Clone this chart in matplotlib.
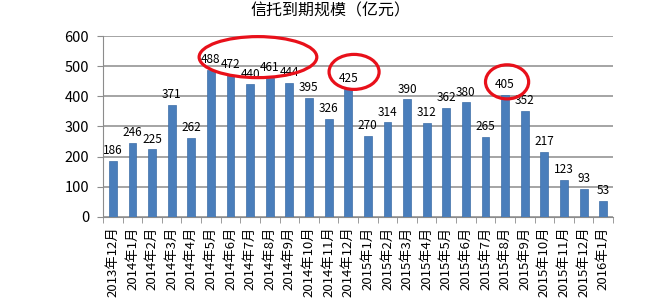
import matplotlib
matplotlib.use('Agg')
import matplotlib.pyplot as plt
from matplotlib.patches import Ellipse
import numpy as np

plt.rcParams['font.family'] = ['Noto Sans CJK SC', 'DejaVu Sans']

## data
months = ['2013年12月', '2014年1月', '2014年2月', '2014年3月', '2014年4月',
          '2014年5月', '2014年6月', '2014年7月', '2014年8月', '2014年9月',
          '2014年10月', '2014年11月', '2014年12月', '2015年1月', '2015年2月',
          '2015年3月', '2015年4月', '2015年5月', '2015年6月', '2015年7月',
          '2015年8月', '2015年9月', '2015年10月', '2015年11月', '2015年12月',
          '2016年1月']
values = [186, 246, 225, 371, 262, 488, 472, 440, 461, 444, 395, 326, 425,
          270, 314, 390, 312, 362, 380, 265, 405, 352, 217, 123, 93, 53]
title = '信托到期规模（亿元）'

fig = plt.figure(figsize=(6.6, 3.0), dpi=100)
ax = fig.add_axes([103/660, 1 - 217/300, (613 - 103)/660, (217 - 36)/300])

x = np.arange(len(values))
ax.bar(x, values, width=0.4, color='#4a7ebb', edgecolor='#3e6ea8',
       linewidth=0.5, zorder=3)

for xi, v in zip(x, values):
    ax.text(xi, v + 12, str(v), ha='center', va='bottom', fontsize=8.5,
            color='black', zorder=5)

## red circles around the peaks
for cx, cy, w, h in [(7.4, 530, 6.0, 136), (12.3, 481, 2.55, 116),
                     (20.1, 448, 2.2, 113)]:
    ax.add_patch(Ellipse((cx, cy), w, h, fill=False, edgecolor='#e8101a',
                         linewidth=2.3, zorder=6, clip_on=False))

ax.set_xlim(-0.5, len(values) - 0.5)
ax.set_ylim(0, 600)
ax.set_yticks(range(0, 601, 100))
ax.yaxis.grid(True, color='#8c8c8c', linewidth=1.1, zorder=0)

ax.set_xticks(x)
ax.set_xticklabels(months, rotation=90, fontsize=9.5)
ax.set_xticks(np.arange(-0.5, len(values), 1), minor=True)
ax.tick_params(axis='x', which='major', length=0, pad=7)
ax.tick_params(axis='x', which='minor', length=4, color='#8c8c8c')
ax.tick_params(axis='y', labelsize=10.5, length=4, color='#8c8c8c', pad=6)

for s in ['top', 'right']:
    ax.spines[s].set_visible(False)
ax.spines['left'].set_color('#8c8c8c')
ax.spines['bottom'].set_color('#8c8c8c')

fig.text(0.5, 1 - 11/300, title, ha='center', va='center', fontsize=11.5)

fig.savefig('out.png', dpi=100)
